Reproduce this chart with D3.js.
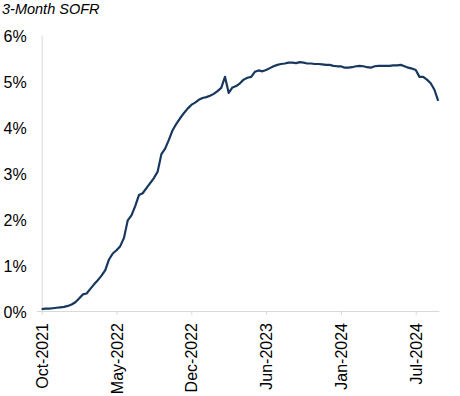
<!DOCTYPE html>
<html lang="en">
<head>
<meta charset="UTF-8">
<title>3-Month SOFR</title>
<script src="https://d3js.org/d3.v7.min.js"></script>
<style>
  body { margin: 0; background: #fff; }
  svg text { font-family: "Liberation Sans", Arial, sans-serif; fill: #000; }
  .line { fill: none; stroke: #17375e; stroke-width: 2.2; stroke-linejoin: round; }
</style>
</head>
<body>
<script>
// 3M SOFR, % (sampled evenly along the category axis)
var sofr = [
  0.04, 0.05, 0.05, 0.06, 0.07, 0.08, 0.09, 0.11, 0.14, 0.19,
  0.27, 0.36, 0.38, 0.48, 0.58, 0.67, 0.77, 0.89, 1.12, 1.25,
  1.32, 1.41, 1.59, 1.97, 2.08, 2.28, 2.52, 2.56, 2.67, 2.78,
  2.89, 3.03, 3.41, 3.53, 3.72, 3.93, 4.07, 4.19, 4.30, 4.40,
  4.48, 4.53, 4.59, 4.63, 4.65, 4.68, 4.72, 4.78, 4.85, 5.09,
  4.74, 4.86, 4.89, 4.95, 5.03, 5.07, 5.09, 5.20, 5.23, 5.21,
  5.24, 5.28, 5.32, 5.35, 5.37, 5.38, 5.40, 5.40, 5.39, 5.41,
  5.40, 5.38, 5.38, 5.37, 5.37, 5.36, 5.35, 5.35, 5.33, 5.32,
  5.32, 5.29, 5.29, 5.30, 5.32, 5.33, 5.32, 5.30, 5.29, 5.32,
  5.33, 5.33, 5.33, 5.33, 5.34, 5.34, 5.35, 5.32, 5.29, 5.27,
  5.24, 5.09, 5.09, 5.03, 4.95, 4.81, 4.57
];

var tickIndex = [0, 20, 40, 60, 80, 100];
var tickLabels = ["Oct-2021", "May-2022", "Dec-2022", "Jun-2023", "Jan-2024", "Jul-2024"];
var yTicks = [0, 1, 2, 3, 4, 5, 6];

var width = 460, height = 396;

var svg = d3.select("body").append("svg")
    .attr("width", width)
    .attr("height", height);

var x = d3.scaleLinear()
    .domain([0, 106.3])
    .range([41.7, 439.3]);

var y = d3.scaleLinear()
    .domain([0, 6])
    .range([311, 35]);

// title
svg.append("text")
    .attr("x", 2)
    .attr("y", 14)
    .style("font-size", "14.5px")
    .style("font-style", "italic")
    .text("3-Month SOFR");

// y axis
var yAxis = svg.append("g")
    .attr("transform", "translate(" + x(0) + ",0)")
    .call(d3.axisLeft(y).tickValues(yTicks).tickSize(0).tickPadding(15)
        .tickFormat(function(d) { return d + "%"; }));
yAxis.select(".domain").attr("stroke", "#d9d9d9");
yAxis.selectAll("text")
    .style("font-size", "16px")
    .attr("dy", "0.4em");

// x axis
var xAxis = svg.append("g")
    .attr("transform", "translate(0," + y(0) + ")")
    .call(d3.axisBottom(x).tickValues(tickIndex).tickSize(4).tickSizeOuter(0)
        .tickFormat(function(d, i) { return tickLabels[i]; }));
xAxis.select(".domain")
    .attr("stroke", "#d9d9d9")
    .attr("d", "M" + (x.range()[0] - 5) + ",0.5H" + x.range()[1]);
xAxis.selectAll(".tick line").attr("stroke", "#d9d9d9");
xAxis.selectAll("text")
    .style("font-size", "16px")
    .attr("transform", "rotate(-90)")
    .attr("text-anchor", "end")
    .attr("x", -12)
    .attr("y", 0)
    .attr("dy", "0.35em");

// line
var line = d3.line()
    .x(function(d, i) { return x(i); })
    .y(function(d) { return y(d); });

svg.append("path")
    .datum(sofr)
    .attr("class", "line")
    .attr("d", line);
</script>
</body>
</html>
